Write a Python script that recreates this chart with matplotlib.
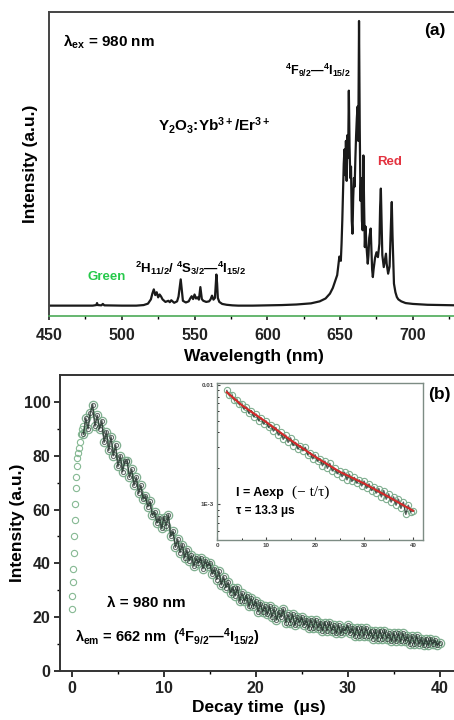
import numpy as np
import matplotlib
matplotlib.use("Agg")
import matplotlib.pyplot as plt
from matplotlib.ticker import MultipleLocator, LogLocator, NullFormatter, FixedLocator, FixedFormatter

plt.rcParams['font.family'] = ['Liberation Sans', 'DejaVu Sans']
plt.rcParams['font.weight'] = 'bold'
plt.rcParams['mathtext.fontset'] = 'custom'
plt.rcParams['mathtext.rm'] = 'Liberation Sans:bold'
plt.rcParams['mathtext.it'] = 'Liberation Sans:bold'
plt.rcParams['mathtext.bf'] = 'Liberation Sans:bold'
plt.rcParams['mathtext.sf'] = 'Liberation Sans:bold'

# ---- (a) upconversion emission spectrum ----
wavelength = [450, 480, 482.5, 483, 483.5, 486, 487, 488, 500, 510,
              515, 518, 520, 521, 522, 523, 524, 525, 526, 527,
              528, 530, 532, 533, 534, 536, 538, 539, 540, 540.5,
              541, 542, 544, 546, 547, 548, 549, 550, 551, 552,
              553, 554, 555, 556, 558, 560, 561, 562, 563, 564,
              564.5, 565, 565.5, 566, 567, 569, 572, 576, 580, 590,
              600, 610, 620, 630, 636, 640, 643, 645, 647, 648,
              649, 649.5, 650.5, 651, 651.5, 652, 652.5, 653, 653.5, 654,
              654.5, 655, 655.5, 656, 656.5, 657, 657.5, 658, 658.5, 659,
              659.5, 660, 660.5, 661, 661.5, 662, 662.5, 663, 663.5, 664,
              664.5, 665, 665.5, 666, 666.5, 667, 667.5, 668, 669, 669.5,
              670, 671, 671.5, 672, 672.5, 673, 674, 675, 676, 677,
              677.5, 678, 678.5, 679, 680, 681, 681.5, 682, 683, 684,
              685, 685.5, 686, 687, 688, 689, 690, 692, 695, 700,
              710, 720, 731]
intensity = [0.3, 0.3, 0.5, 1.2, 0.5, 0.4, 0.9, 0.4, 0.3, 0.3,
             0.5, 1.0, 2.5, 4.5, 6.0, 4.0, 5.0, 3.2, 4.2, 3.5,
             2.5, 1.6, 2.0, 1.5, 2.2, 1.3, 1.8, 3.5, 7.5, 9.5,
             7.0, 2.0, 1.4, 1.8, 2.8, 3.6, 2.6, 4.2, 2.8, 3.2,
             2.4, 6.8, 2.6, 2.0, 1.6, 1.8, 2.5, 3.8, 2.4, 3.0,
             7.0, 11.2, 8.0, 3.0, 1.6, 0.9, 0.6, 0.4, 0.3, 0.3,
             0.4, 0.5, 0.7, 1.1, 1.8, 2.8, 4.5, 6.5, 9.5, 11.0,
             15.5, 17.5, 16.0, 22.0, 30.0, 40.0, 50.0, 55.0, 46.0, 58.0,
             44.0, 60.0, 52.0, 75.6, 56.0, 45.0, 49.0, 30.0, 25.5, 38.0,
             45.0, 42.0, 52.0, 60.0, 66.0, 70.0, 58.0, 100.0, 62.0, 37.0,
             45.0, 30.0, 26.7, 52.9, 35.0, 20.8, 28.0, 22.0, 15.0, 18.0,
             24.0, 27.3, 20.0, 13.0, 10.3, 13.0, 17.0, 19.0, 17.3, 22.0,
             35.0, 41.3, 30.0, 18.0, 13.8, 17.0, 18.5, 15.0, 11.5, 14.0,
             30.0, 36.6, 25.0, 8.0, 5.0, 3.3, 2.5, 1.8, 1.2, 0.9,
             0.6, 0.5, 0.4]

# ---- (b) decay curve ----
rise_t = [0.0, 0.05, 0.1, 0.15, 0.2, 0.25, 0.3, 0.35, 0.4, 0.45,
          0.5, 0.6, 0.7, 0.8, 0.9, 1.0, 1.1, 1.2]
rise_I = [23, 28, 33, 38, 44, 50, 56, 62, 68, 72,
          76, 79, 81, 83, 85, 88, 90, 91]
decay_t = np.arange(1.25, 40.01, 0.25)   # sampling grid of the trace
decay_I = [88, 94, 90,
           96, 99, 91, 95,  90, 93, 85, 89,  82, 87, 80, 84,
           76, 80, 74, 78,  78, 72, 75, 69,  72, 66, 69, 64,
           65, 61, 63, 58,  59, 55, 57, 53,  57, 54, 58, 50,
           52, 46, 49, 44,  47, 42, 45, 41,  43, 39, 42, 40,
           42, 38, 41, 39,  40, 36, 38, 34,  37, 32, 35, 31,
           33, 29, 31, 28,  31, 26, 29, 26,  28, 24, 27, 24,
           26, 22, 25, 22,  24, 21, 24, 20,  23, 19, 22, 20,
           23, 18, 21, 18,  21, 17, 20, 18,  20, 17, 19, 16,
           19, 16, 19, 16,  18, 15, 18, 15,  18, 15, 17, 14,
           17, 14, 16, 15,  17, 14, 16, 13,  16, 13, 16, 13,
           16, 13, 15, 12,  15, 12, 15, 12,  15, 12, 14, 11,
           14, 11, 14, 11,  14, 11, 13, 10,  13, 10, 13, 10,
           12, 9.5, 12, 9.5,  12, 10, 11.5, 9.5,  10.5]

# ---- (b) inset, log scale ----
inset_t = np.arange(2.0, 40.01, 0.5)
inset_I = [0.0090, 0.0082, 0.0082, 0.0075, 0.0075, 0.0069, 0.0069, 0.0063, 0.0065, 0.0058,
           0.0061, 0.0054, 0.0057, 0.0050, 0.0053, 0.0047, 0.0050, 0.0044, 0.0046, 0.0041,
           0.0044, 0.0038, 0.0040, 0.0035, 0.0038, 0.0033, 0.0036, 0.0031, 0.0033, 0.0029,
           0.0031, 0.0028, 0.0030, 0.0026, 0.0027, 0.0024, 0.0026, 0.0023, 0.0024, 0.0021,
           0.0023, 0.0020, 0.0022, 0.0019, 0.0020, 0.0018, 0.0019, 0.0017, 0.00185, 0.0016,
           0.00178, 0.00155, 0.00168, 0.0015, 0.0016, 0.00142, 0.00156, 0.00136, 0.00148, 0.0013,
           0.0014, 0.00124, 0.00135, 0.00115, 0.0013, 0.0011, 0.00122, 0.00104, 0.00115, 0.00098,
           0.0011, 0.00092, 0.00104, 0.00082, 0.00098, 0.00086, 0.00088]
fit_t = [2, 5, 10, 15, 20, 25, 30, 35, 40]
fit_I = [0.0087, 0.0068, 0.0049, 0.00345, 0.0025, 0.00187, 0.00149, 0.00115, 0.00088]

fig = plt.figure(figsize=(4.54, 7.2), dpi=100)
W, H = 454.0, 720.0

# ---------------- panel (a) ----------------
ax1 = fig.add_axes([49 / W, 1 - 316 / H, 409 / W, 304 / H])
ax1.plot(wavelength, intensity, color='#1a1a1a', lw=1.6)
ax1.set_xlim(450, 731)
ax1.set_ylim(-3.33, 103.15)
ax1.xaxis.set_major_locator(MultipleLocator(50))
ax1.xaxis.set_minor_locator(MultipleLocator(25))
ax1.set_yticks([])
ax1.tick_params(axis='x', which='major', direction='out', length=3, width=1.2,
                labelsize=11.5, pad=6, colors='#222222')
ax1.tick_params(axis='x', which='minor', direction='out', length=2, width=1)
for s in ['top', 'left', 'right']:
    ax1.spines[s].set_color('#444444')
    ax1.spines[s].set_linewidth(1.4)
ax1.spines['bottom'].set_color('#4caa58')
ax1.spines['bottom'].set_linewidth(1.2)
ax1.set_xlabel('Wavelength (nm)', fontsize=12.5, fontweight='bold', labelpad=4)
ax1.set_ylabel('Intensity (a.u.)', fontsize=12.5, fontweight='bold', labelpad=8)

fig.text(63 / W, 1 - 42 / H, r'λ$_{\rm ex}$ = 980 nm', fontsize=11, va='center', ha='left')
fig.text(424 / W, 1 - 30 / H, '(a)', fontsize=12.5, va='center', ha='left')
fig.text(285 / W, 1 - 70 / H, r'$^4$F$_{9/2}$—$^4$I$_{15/2}$', fontsize=9, va='center', ha='left')
fig.text(214 / W, 1 - 125 / H, r'Y$_2$O$_3$:Yb$^{3+}$/Er$^{3+}$', fontsize=11, va='center', ha='center')
fig.text(377 / W, 1 - 162 / H, 'Red', fontsize=9.5, color='#e3323f', va='center', ha='left')
fig.text(88 / W, 1 - 277 / H, 'Green', fontsize=9.5, color='#26c94a', va='center', ha='left')
fig.text(135 / W, 1 - 268 / H, r'$^2$H$_{11/2}$/ $^4$S$_{3/2}$—$^4$I$_{15/2}$', fontsize=9.5,
         va='center', ha='left')

# ---------------- panel (b) ----------------
ax2 = fig.add_axes([60 / W, 1 - 671 / H, 398 / W, 296 / H])
ax2.plot(rise_t, rise_I, 'o', ms=4.5, mfc='none', mec='#86b993', mew=0.8)
ax2.plot(decay_t, decay_I, 'o', ms=6, mfc='none', mec='#7fae8f', mew=0.9)
ax2.plot(decay_t, decay_I, '-', color='#202b27', lw=1.1, alpha=0.8)
ax2.plot(decay_t, decay_I, 'o', ms=3, mfc='none', mec='#2b3a34', mew=0.8, alpha=0.7)
ax2.set_xlim(-1.3, 42)
ax2.set_ylim(0, 110)
ax2.xaxis.set_major_locator(MultipleLocator(10))
ax2.xaxis.set_minor_locator(MultipleLocator(5))
ax2.yaxis.set_major_locator(FixedLocator([0, 20, 40, 60, 80, 100]))
ax2.yaxis.set_minor_locator(FixedLocator([10, 30, 50, 70, 90]))
ax2.tick_params(which='major', direction='out', length=4, width=1.3, labelsize=11.5,
                colors='#222222', pad=3)
ax2.tick_params(which='minor', direction='out', length=2.5, width=1)
for s in ax2.spines.values():
    s.set_color('#333333')
    s.set_linewidth(1.4)
ax2.set_xlabel('Decay time  (μs)', fontsize=12.5, fontweight='bold', labelpad=3)
ax2.set_ylabel('Intensity (a.u.)', fontsize=12.5, fontweight='bold', labelpad=-1)

fig.text(428 / W, 1 - 394 / H, '(b)', fontsize=12.5, va='center', ha='left')
fig.text(107 / W, 1 - 603 / H, 'λ = 980 nm', fontsize=11, va='center', ha='left')
fig.text(75 / W, 1 - 637 / H, r'λ$_{\rm em}$ = 662 nm  ($^4$F$_{9/2}$—$^4$I$_{15/2}$)',
         fontsize=10.5, va='center', ha='left')

# inset
ax3 = fig.add_axes([217 / W, 1 - 540 / H, 206 / W, 157 / H])
ax3.set_yscale('log')
ax3.plot(inset_t, inset_I, 'o', ms=4.5, mfc='none', mec='#7fae8f', mew=0.8)
ax3.plot(inset_t, inset_I, '-', color='#202b27', lw=1.0, alpha=0.75)
ax3.plot(fit_t, fit_I, '-', color='#d42a2a', lw=1.5)
ax3.set_xlim(0, 42)
ax3.set_ylim(5.0e-4, 0.0104)
ax3.xaxis.set_major_locator(MultipleLocator(10))
ax3.xaxis.set_minor_locator(MultipleLocator(5))
ax3.yaxis.set_major_locator(FixedLocator([1e-3, 1e-2]))
ax3.yaxis.set_major_formatter(FixedFormatter(['1E-3', '0.01']))
ax3.yaxis.set_minor_locator(LogLocator(base=10, subs=np.arange(2, 10)))
ax3.yaxis.set_minor_formatter(NullFormatter())
ax3.tick_params(which='major', direction='in', length=2.5, width=0.8, labelsize=4.5,
                colors='#444444', pad=2)
ax3.tick_params(which='minor', direction='in', length=1.5, width=0.6)
for s in ax3.spines.values():
    s.set_color('#7d8c84')
    s.set_linewidth(1.0)

fig.text(236 / W, 1 - 493 / H, 'I = Aexp', fontsize=9, va='center', ha='left')
fig.text(292 / W, 1 - 492 / H, '(− t/τ)', fontsize=11, va='center', ha='left',
         family='Liberation Serif', fontweight='normal')
fig.text(236 / W, 1 - 511 / H, 'τ = 13.3 μs', fontsize=8.5, va='center', ha='left')

fig.savefig('out.png', dpi=100)
